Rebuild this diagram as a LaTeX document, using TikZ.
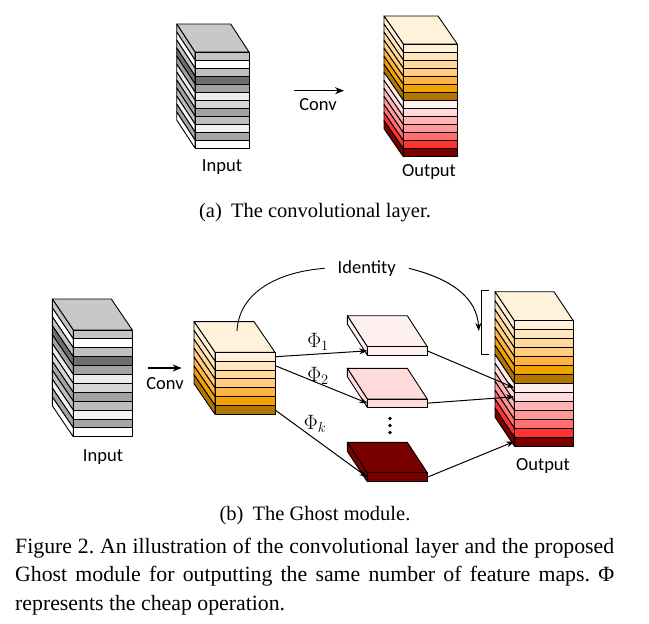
\documentclass[tikz,border=0pt]{standalone}
\usepackage{fontspec}
\setmainfont{Liberation Serif}
\newfontfamily\lblfont{Carlito}
\usetikzlibrary{arrows.meta}

\definecolor{gtop}{HTML}{C8C8C8}
\definecolor{g1}{HTML}{C4C4C4}
\definecolor{g3}{HTML}{C0C0C0}
\definecolor{g4}{HTML}{6E6E6E}
\definecolor{g5}{HTML}{A2A2A2}
\definecolor{g6}{HTML}{EDEDED}
\definecolor{g7}{HTML}{D6D6D6}
\definecolor{g9}{HTML}{BDBDBD}
\definecolor{g10}{HTML}{F2F2F2}
\definecolor{g11}{HTML}{A6A6A6}
\definecolor{o1}{HTML}{FFF2DB}
\definecolor{o2}{HTML}{FFE6BF}
\definecolor{o3}{HTML}{FFD99A}
\definecolor{o4}{HTML}{FFCC80}
\definecolor{o5}{HTML}{FFB340}
\definecolor{o6}{HTML}{F2A200}
\definecolor{o7}{HTML}{B27600}
\definecolor{r1}{HTML}{FFF0F0}
\definecolor{r2}{HTML}{FFDADA}
\definecolor{r3}{HTML}{FFB3B3}
\definecolor{r4}{HTML}{FF9999}
\definecolor{r5}{HTML}{FF7070}
\definecolor{r6}{HTML}{FF3333}
\definecolor{r7}{HTML}{7A0000}

\tikzset{
  stackedge/.style={draw=black, line width=0.9pt, line join=round},
  conn/.style={line width=1pt, -{Stealth[length=8pt,width=6pt]}},
  bigconn/.style={line width=1.4pt, -{Stealth[length=9pt,width=7pt]}},
  lbl/.style={font=\lblfont\fontsize{18.5}{22}\selectfont, inner sep=0pt},
  philbl/.style={font=\fontsize{20}{22}\selectfont, inner sep=0pt},
  subcap/.style={font=\fontsize{20.5}{24}\selectfont, inner sep=0pt},
  capline/.style={font=\fontsize{21.8}{26}\selectfont\frenchspacing, inner sep=0pt, anchor=base west},
}

% #1 name, #2 x, #3 y (front top-left), #4 width, #5 layer height, #6 depth dx, #7 depth dy, #8 top colour, #9 layer colours
\newcommand{\featstack}[9]{%
  \filldraw[stackedge,fill=#8] (#2,#3) -- (#2-#6,#3-#7) -- (#2-#6+#4,#3-#7) -- (#2+#4,#3) -- cycle;
  \foreach \c [count=\i] in {#9} {%
    \pgfmathsetmacro\ya{#3+(\i-1)*#5}%
    \pgfmathsetmacro\yb{\ya+#5}%
    \filldraw[stackedge,fill=\c] (#2,\ya) -- (#2-#6,\ya-#7) -- (#2-#6,\yb-#7) -- (#2,\yb) -- cycle;
    \filldraw[stackedge,fill=\c] (#2,\ya) rectangle (#2+#4,\yb);
    \coordinate (#1-L\i) at (#2,\ya+#5/2);
    \coordinate (#1-R\i) at (#2+#4,\ya+#5/2);
  }%
}

\begin{document}
\begin{tikzpicture}[x=1pt,y=-1pt]
\useasboundingbox[fill=white] (0,0) rectangle (649,624);

% ---------- (a) ----------
\featstack{ain}{195}{52}{54}{8}{18.3}{28}{gtop}{g1,white,g3,g4,g5,g6,g7,g5,g9,g10,g11,white}
\featstack{aout}{403.3}{44}{54}{8.05}{19.3}{28}{o1}{o1,o2,o3,o4,o5,o6,o7,r1,r2,r3,r4,r5,r6,r7}
\coordinate (aconvS) at (294,90.7);
\coordinate (aconvE) at (344,90.7);
\draw[bigconn] (aconvS) -- (aconvE);
\node[lbl] (aconv) at (318,105) {Conv};
\node[lbl] (ainlbl) at (222,167) {Input};
\node[lbl] (aoutlbl) at (429,172) {Output};
\node[subcap] (capa) at (315,213) {(a)\hspace{0.45em}The convolutional layer.};

% ---------- (b) ----------
\featstack{bin}{73.3}{330}{59}{8.9}{21}{31}{gtop}{g1,white,g3,g4,g5,g6,g7,g5,g9,g10,g11,white}
\node[lbl] (binlbl) at (103,457) {Input};
\coordinate (bconvS) at (148,368);
\coordinate (bconvE) at (181.7,368);
\draw[bigconn] (bconvS) -- (bconvE);
\node[lbl] (bconv) at (165,384) {Conv};

\featstack{mid}{215}{352.3}{60}{8.86}{21}{30.7}{o1}{o1,o2,o3,o4,o5,o6,o7}

\featstack{pa}{367.3}{346.7}{60}{8.3}{20}{31}{r1}{r1}
\featstack{pb}{367.3}{399}{60}{8.3}{20}{30.7}{r2}{r2}
\featstack{pk}{367.3}{472.7}{60}{9}{20}{30.4}{r7}{r7}
\fill (390,418.5) circle (1.8);
\fill (390,425.5) circle (1.8);
\fill (390,432.5) circle (1.8);

\featstack{bout}{514.3}{320.7}{59}{8.95}{19.3}{29}{o1}{o1,o2,o3,o4,o5,o6,o7,r1,r2,r3,r4,r5,r6,r7}
\node[lbl] (boutlbl) at (543,466) {Output};

% bracket
\coordinate (brkT) at (489,290);
\coordinate (brkB) at (489,354);
\draw[line width=0.9pt] (brkT) -- (481,290) -- (481,354) -- (brkB);

% identity
\node[lbl, inner xsep=13pt] (ident) at (366.7,268.3) {Identity};
\coordinate (midtop) at (237,331);
\coordinate (brkin) at (478.8,331);
\draw[line width=0.9pt] (midtop) .. controls (239,292) and (278,272) .. (ident.west);
\draw[conn] (ident.east) .. controls (452,279) and (477,298) .. (brkin);

% cheap operations
\draw[conn] (mid-R1) -- (pa-L1);
\draw[conn] (mid-R2) -- (pb-L1);
\draw[conn] (mid-R7) -- (pk-L1);
\node[philbl] (phi1) at (318,342) {$\Phi_1$};
\node[philbl] (phi2) at (318,376) {$\Phi_2$};
\node[philbl] (phik) at (315,424) {$\Phi_k$};

\draw[conn] (pa-R1) -- (bout-L8);
\draw[conn] (pb-R1) -- (bout-L9);
\draw[conn] (pk-R1) -- (bout-L14);

\node[subcap] (capb) at (315,516) {(b)\hspace{0.45em}The Ghost module.};

% figure caption
\node[capline] (cap1) at (15,553) {\makebox[599pt][s]{Figure 2. An illustration of the convolutional layer and the proposed}};
\node[capline] (cap2) at (15,581) {\makebox[599pt][s]{Ghost module for outputting the same number of feature maps. Φ}};
\node[capline] (cap3) at (15,610) {represents the cheap operation.};
\end{tikzpicture}
\end{document}
